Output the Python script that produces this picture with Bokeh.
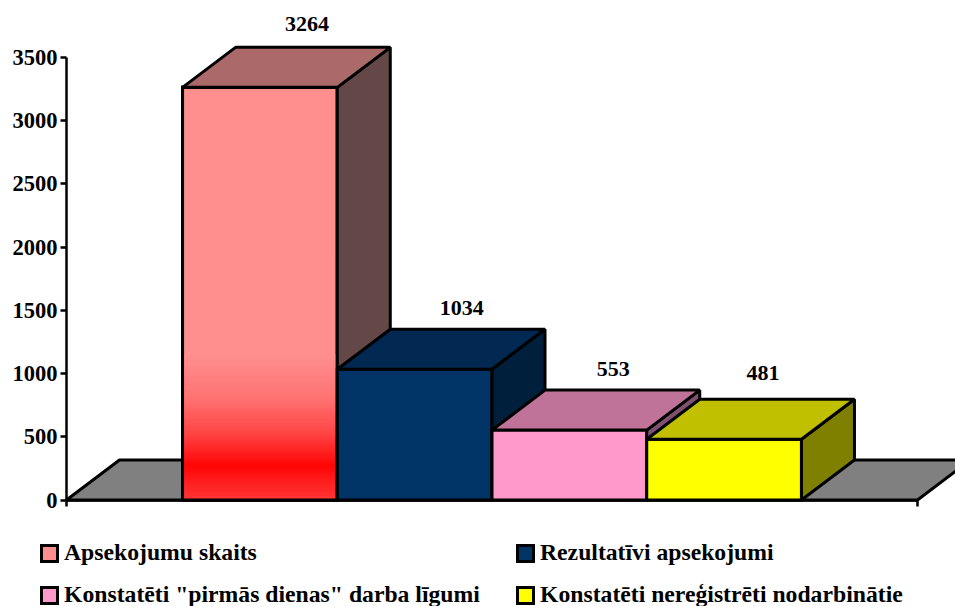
from bokeh.plotting import figure
from bokeh.models import FixedTicker, Legend, LegendItem, ColumnDataSource, Range1d
from bokeh.core.properties import value
from bokeh.embed import file_html
from bokeh.resources import INLINE

# ---- data ----
series = ["Apsekojumu skaits", "Rezultatīvi apsekojumi",
          'Konstatēti "pirmās dienas" darba līgumi', "Konstatēti nereģistrēti nodarbinātie"]
values = [3264, 1034, 553, 481]
y_ticks = [0, 500, 1000, 1500, 2000, 2500, 3000, 3500]

# ---- colours ----
front = ["#FF8F8F", "#003366", "#FF99CC", "#FFFF00"]
top = ["#AB6969", "#002850", "#BF7399", "#C0C000"]
side = ["#644848", "#001F3D", "#805070", "#808000"]
floor_color = "#808080"
# gradient of the first bar: (value, colour)
grad_stops = [(1150, (255, 143, 143)), (786, (255, 112, 112)), (549, (255, 72, 72)),
              (272, (255, 0, 0)), (0, (255, 56, 56))]

# ---- geometry in data units ----
GAP = 0.75
AX_END = GAP * 2 + len(values)
PX_X = (917 - 66) / AX_END       # pixels per category
PX_Y = (499.5 - 57) / 3500       # pixels per value
DX = 53 / PX_X
DY = 40 / PX_Y
FONT = "Liberation Serif"

p = figure(width=955, height=606, output_backend="svg", toolbar_location=None,
           x_range=Range1d(-66 / PX_X, (955 - 66) / PX_X),
           y_range=Range1d(-(606 - 499.5) / PX_Y, 499.5 / PX_Y),
           min_border_left=0, min_border_right=0, min_border_top=0, min_border_bottom=0,
           outline_line_color=None, background_fill_color="white")
p.styles = {"position": "absolute", "left": "0", "top": "0"}
p.grid.visible = False

ya = p.yaxis[0]
ya.ticker = FixedTicker(ticks=y_ticks)
ya.bounds = (0, 3500)
ya.fixed_location = 0
ya.axis_line_width = 2.5
ya.axis_line_color = "black"
ya.major_tick_line_width = 2.5
ya.major_tick_line_color = "black"
ya.major_tick_in = 0
ya.major_tick_out = 6
ya.minor_tick_line_color = None
ya.major_label_standoff = 3
ya.major_label_text_font = FONT
ya.major_label_text_font_style = "bold"
ya.major_label_text_font_size = "22.5px"
ya.major_label_text_color = "black"

xa = p.xaxis[0]
xa.ticker = FixedTicker(ticks=[0, AX_END])
xa.bounds = (0, AX_END)
xa.fixed_location = 0
xa.axis_line_width = 2.5
xa.axis_line_color = "black"
xa.major_tick_line_width = 2.5
xa.major_tick_line_color = "black"
xa.major_tick_in = 0
xa.major_tick_out = 6
xa.minor_tick_line_color = None
xa.major_label_text_font_size = "0px"
xa.major_label_text_color = None

FACE_LINE = dict(line_color="black", line_width=3, line_join="miter")
SLANT_LINE = dict(line_color="black", line_width=3, line_join="bevel")

# floor
p.patch([0, DX, AX_END + DX, AX_END], [0, DY, DY, 0], fill_color=floor_color, **SLANT_LINE)

legend_renderers = []
for i, (v, f, t, s) in enumerate(zip(values, front, top, side)):
    x0 = GAP + i
    x1 = x0 + 1
    r = p.quad(left=x0, right=x1, bottom=0, top=v, fill_color=f, **FACE_LINE)
    legend_renderers.append(r)
    if i == 0:
        # vertical gradient at the foot of the first bar
        for (y_hi, c_hi), (y_lo, c_lo) in zip(grad_stops[:-1], grad_stops[1:]):
            n = max(1, int((y_hi - y_lo) * PX_Y))
            for k in range(n):
                a = (k + 0.5) / n
                col = "#%02X%02X%02X" % tuple(int(round(c_hi[j] + (c_lo[j] - c_hi[j]) * a)) for j in range(3))
                p.quad(left=x0, right=x1, top=y_hi + (y_lo - y_hi) * k / n,
                       bottom=y_hi + (y_lo - y_hi) * (k + 1) / n,
                       fill_color=col, line_color=col, line_width=0.6)
        p.quad(left=x0, right=x1, bottom=0, top=v, fill_color=None, **FACE_LINE)
    # side
    p.patch([x1, x1 + DX, x1 + DX, x1], [0, DY, v + DY, v], fill_color=s, **SLANT_LINE)
    # top
    p.patch([x0, x0 + DX, x1 + DX, x1], [v, v + DY, v + DY, v], fill_color=t, **SLANT_LINE)

# value labels
label_x_offset = [47, 47, 44, 39]
label_y_offset = [-23, -21, -21, -26]
lab = ColumnDataSource(dict(x=[GAP + i + 0.5 for i in range(len(values))],
                            y=[v + DY for v in values],
                            t=[str(v) for v in values],
                            xo=label_x_offset, yo=label_y_offset))
p.text(x="x", y="y", text="t", source=lab, text_font=value(FONT), text_font_style="bold",
       text_font_size="22px", text_color="black", text_align="center",
       text_baseline="alphabetic", x_offset="xo", y_offset="yo")

# legend: one per entry so the 2x2 layout is placed exactly
slots = [(39, 40), (515, 40), (39, -2), (515, -2)]
for r, name, loc in zip(legend_renderers, series, slots):
    lg = Legend(items=[LegendItem(label=value(name), renderers=[r])], location=loc,
                glyph_width=20, glyph_height=20, label_standoff=5, padding=0, margin=0,
                border_line_color=None, background_fill_alpha=0,
                label_text_font=FONT, label_text_font_style="bold",
                label_text_font_size="23.7px", label_text_color="black", label_height=14)
    p.add_layout(lg, "center")

open("out.html", "w").write(file_html(p, INLINE))
